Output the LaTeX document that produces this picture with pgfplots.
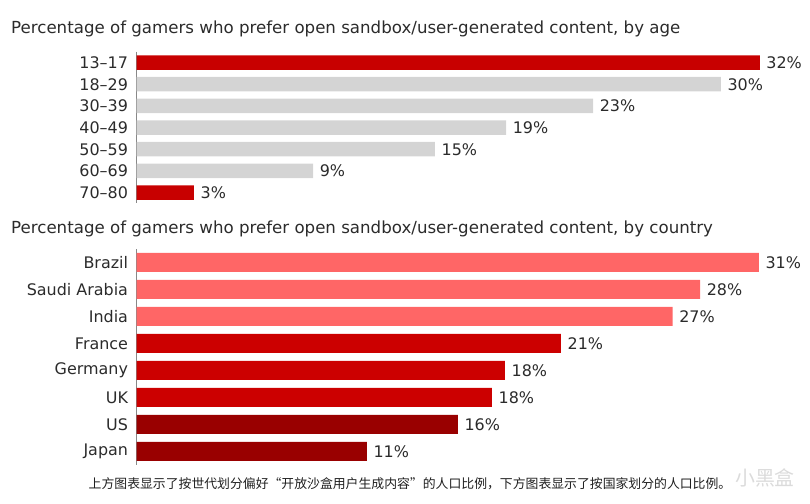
\documentclass[border=0pt]{standalone}
\usepackage{pgfplots}
\pgfplotsset{compat=1.18}
\usepackage{fontspec}
\setmainfont{DejaVu Sans}
\newfontfamily\cjk{Noto Sans CJK SC}
\definecolor{txt}{HTML}{2B2B2B}
\definecolor{topred}{HTML}{C80000}
\definecolor{lgray}{HTML}{D4D4D4}
\definecolor{lred}{HTML}{FF6666}
\definecolor{mred}{HTML}{CC0000}
\definecolor{dred}{HTML}{990000}
\definecolor{axgray}{HTML}{888888}
\pgfplotsset{
  mybars/.style={
    xbar, bar shift=0pt, draw=none,
    nodes near coords, point meta=explicit symbolic,
    every node near coord/.append style={anchor=west, inner sep=0pt, xshift=6.5bp,
      font=\fontsize{16}{19}\selectfont, text=txt},
  },
  mystyle/.style={
    scale only axis, clip=false,
    axis x line=none, axis y line*=left,
    y axis line style={axgray, line width=0.8bp},
    y dir=reverse, xmin=0,
    major tick length=0pt, ytick style={draw=none},
    yticklabel style={inner sep=0pt, xshift=-8.5bp, font=\fontsize{16}{19}\selectfont, text=txt},
    ytick={0,...,7},
  },
}
\begin{document}
\begin{tikzpicture}
\useasboundingbox (0,0) rectangle (810bp,504bp);
\node[anchor=west, inner sep=0pt, font=\fontsize{16.7}{19}\selectfont, text=txt] at (11bp,475bp)
  {Percentage of gamers who prefer open sandbox/user-generated content, by age};
\node[anchor=west, inner sep=0pt, font=\fontsize{16.7}{19}\selectfont, text=txt] at (11bp,275bp)
  {Percentage of gamers who prefer open sandbox/user-generated content, by country};

\begin{axis}[mystyle,
  at={(136.7bp,452.3bp)}, anchor=north west,
  width=662bp, height=151.7bp, xmax=34,
  ymin=-0.5, ymax=6.5, bar width=14.5bp,
  yticklabels={13–17,18–29,30–39,40–49,50–59,60–69,70–80},
]
\addplot[mybars, fill=topred] coordinates {(32,0) [32\%] (2.94,6) [3\%]};
\addplot[mybars, fill=lgray] coordinates {(30,1) [30\%] (23.44,2) [23\%] (18.97,3) [19\%] (15.32,4) [15\%] (9.06,5) [9\%]};
\end{axis}

\begin{axis}[mystyle,
  at={(136.7bp,255.0bp)}, anchor=north west,
  width=662.3bp, height=215.8bp, xmax=33,
  ymin=-0.5, ymax=7.5, bar width=19bp,
  yticklabels={Brazil,Saudi Arabia,India,France,Germany,UK,US,Japan},
]
\addplot[mybars, fill=lred] coordinates {(31,0) [31\%] (28.07,1) [28\%] (26.7,2) [27\%]};
\addplot[mybars, fill=mred] coordinates {(21.14,3) [21\%] (18.35,4) [18\%] (17.7,5) [18\%]};
\addplot[mybars, fill=dred] coordinates {(16.0,6) [16\%] (11.47,7) [11\%]};
\end{axis}

\node[inner sep=0pt, font=\cjk\fontsize{12.9}{15}\selectfont, text=black!88] at (410bp,20.5bp)
  {上方图表显示了按世代划分偏好“开放沙盒用户生成内容”的人口比例，下方图表显示了按国家划分的人口比例。};
\node[inner sep=0pt, font=\cjk\fontsize{20}{24}\selectfont, text=black!14] at (765bp,26bp) {小黑盒};
\end{tikzpicture}
\end{document}
